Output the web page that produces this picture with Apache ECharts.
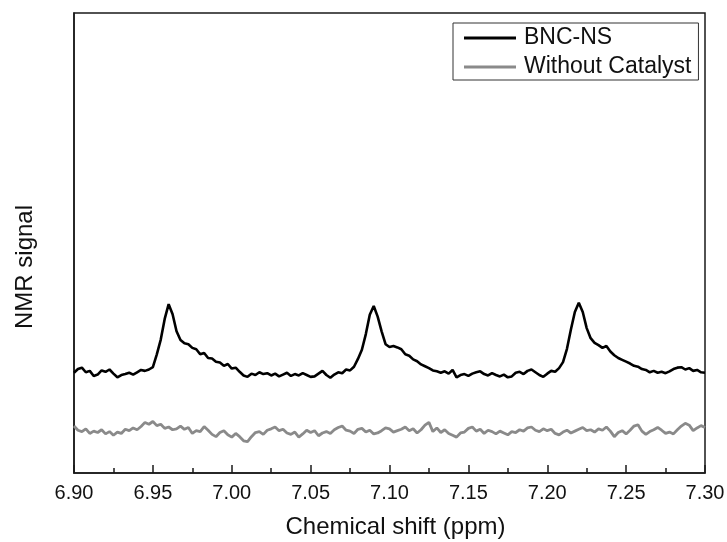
<!DOCTYPE html>
<html>
<head>
<meta charset="utf-8">
<title>NMR signal</title>
<script src="https://cdn.jsdelivr.net/npm/echarts@6/dist/echarts.min.js"></script>
<style>
  html, body { margin: 0; padding: 0; background: #fff; }
  #chart { width: 727px; height: 542px; }
</style>
</head>
<body>
<div id="chart"></div>
<script>
// Spectrum sampled every 0.0025 ppm from 6.90 to 7.30 ppm
const shiftStart = 6.90;
const shiftStep = 0.0025;

const seriesNames = ['BNC-NS', 'Without Catalyst'];

const xTicks = [6.90, 6.95, 7.00, 7.05, 7.10, 7.15, 7.20, 7.25, 7.30];

// Signal intensity (arbitrary units), BNC-NS
const bncNs = [
  21.8, 22.6, 22.9, 21.9, 22.2, 21.1, 21.4, 22.3, 22.0, 22.5,
  21.6, 20.8, 21.3, 21.5, 21.8, 21.4, 21.9, 22.4, 22.2, 22.5,
  23.0, 25.8, 29.0, 33.5, 36.7, 34.5, 30.8, 28.9, 28.2, 28.0,
  27.2, 26.9, 25.8, 26.1, 25.0, 24.9, 24.2, 24.0, 23.3, 23.7,
  22.7, 22.9, 22.0, 21.2, 20.9, 21.6, 21.3, 21.9, 21.5, 21.7,
  21.2, 21.6, 21.0, 21.4, 21.8, 21.1, 21.5, 21.2, 21.7, 21.3,
  20.9, 21.0, 21.6, 22.2, 21.3, 20.7, 21.4, 21.9, 21.7, 22.5,
  22.3, 23.1, 24.8, 26.8, 30.2, 34.4, 36.3, 34.0, 30.8, 28.0,
  27.4, 27.6, 27.3, 26.9, 25.8, 25.5, 24.7, 24.3, 23.6, 23.2,
  22.8, 22.3, 22.1, 21.8, 22.1, 21.6, 22.4, 20.8, 21.3, 21.5,
  21.1, 21.6, 21.9, 22.1, 21.5, 21.2, 21.7, 21.3, 21.0, 21.4,
  20.8, 21.0, 21.8, 22.0, 21.5, 22.2, 22.5, 21.9, 21.3, 20.9,
  21.6, 22.2, 22.0, 22.8, 24.1, 27.0, 31.2, 35.0, 37.0, 35.0,
  31.5, 29.3, 28.3, 27.8, 27.2, 27.6, 26.4, 25.6, 25.0, 24.6,
  24.2, 23.8, 23.3, 23.1, 22.6, 22.4, 21.9, 22.2, 21.8, 22.0,
  21.7, 22.1, 22.6, 22.9, 23.0, 22.5, 22.8, 22.2, 22.4, 21.9,
  21.8
];

// Signal intensity (arbitrary units), without catalyst
const noCatalyst = [
  10.2, 9.3, 9.0, 9.6, 8.6, 9.1, 8.8, 9.4, 8.5, 9.0,
  8.2, 8.9, 8.6, 9.5, 9.2, 9.8, 9.4, 10.1, 11.0, 10.6,
  11.2, 10.3, 10.6, 9.7, 10.0, 9.4, 9.6, 10.2, 9.5, 9.9,
  8.6, 9.2, 9.0, 10.1, 9.3, 8.4, 7.9, 8.8, 9.2, 8.3,
  7.8, 8.6, 7.9, 7.0, 6.8, 7.9, 8.8, 9.0, 8.4, 9.3,
  9.6, 10.0, 9.2, 9.5, 8.7, 8.4, 8.9, 7.8, 8.5, 9.3,
  8.8, 9.2, 8.1, 8.7, 9.0, 8.6, 9.4, 9.9, 10.2, 9.3,
  9.1, 8.6, 9.5, 9.7, 8.9, 9.3, 8.5, 8.7, 9.2, 9.8,
  9.6, 8.9, 9.2, 9.5, 10.0, 9.2, 9.6, 8.7, 9.4, 10.4,
  11.0, 9.0, 9.8, 8.8, 9.4, 8.6, 8.2, 7.8, 8.7, 8.9,
  9.7, 10.0, 9.1, 9.5, 8.6, 9.3, 9.0, 8.5, 9.1, 8.7,
  8.3, 9.0, 8.8, 9.4, 9.1, 9.8, 10.0, 9.3, 9.0, 9.6,
  9.2, 9.5, 8.6, 8.3, 8.9, 9.3, 8.7, 9.1, 9.5, 9.9,
  9.2, 9.4, 8.9, 9.6, 9.3, 10.0, 9.1, 7.9, 8.8, 9.2,
  8.5, 9.3, 10.2, 10.5, 9.1, 8.4, 9.0, 9.4, 9.9, 9.3,
  8.6, 8.9, 8.5, 9.4, 10.2, 10.8, 10.4, 9.2, 9.8, 10.3,
  9.9
];

function toPairs(values) {
  return values.map((v, i) => [+(shiftStart + i * shiftStep).toFixed(4), v]);
}

const chart = echarts.init(document.getElementById('chart'), null, { renderer: 'canvas' });

const frameColor = '#1a1a1a';
const textColor = '#111';
const fontFamily = 'Liberation Sans, Arial, sans-serif';
const lineColors = ['#000000', '#8a8a8a'];

chart.setOption({
  animation: false,
  backgroundColor: '#fff',
  grid: {
    left: 74, right: 22, top: 13, bottom: 69,
    outerBoundsMode: 'none',
    containLabel: false,
    show: true, borderColor: frameColor, borderWidth: 1.5
  },
  legend: {
    data: seriesNames,
    orient: 'vertical',
    left: 453, top: 23,
    padding: [2, 7, 0, 11],
    itemGap: 3,
    itemWidth: 52,
    itemHeight: 3,
    icon: 'rect',
    borderColor: '#333',
    borderWidth: 1,
    textStyle: { fontFamily, fontSize: 23, color: textColor, lineHeight: 26, padding: [0, 0, 0, 3] }
  },
  xAxis: {
    type: 'value',
    min: xTicks[0],
    max: xTicks[xTicks.length - 1],
    interval: 0.05,
    name: 'Chemical shift (ppm)',
    nameLocation: 'middle',
    nameGap: 42,
    nameTextStyle: { fontFamily, fontSize: 24, color: textColor, padding: [0, 0, 0, 12] },
    axisLine: { show: true, lineStyle: { color: frameColor, width: 1.5 } },
    axisTick: { show: true, inside: true, length: 8, lineStyle: { color: frameColor, width: 1.5 } },
    minorTick: { show: true, splitNumber: 2, length: 5, lineStyle: { color: frameColor, width: 1.5 } },
    axisLabel: {
      margin: 10, fontFamily, fontSize: 20, color: textColor,
      formatter: v => v.toFixed(2)
    },
    splitLine: { show: false }
  },
  yAxis: {
    type: 'value',
    min: 0, max: 100,
    name: 'NMR signal',
    nameLocation: 'middle',
    nameGap: 37,
    nameTextStyle: { fontFamily, fontSize: 24, color: textColor, padding: [0, 48, 0, 0] },
    axisLine: { show: true, lineStyle: { color: frameColor, width: 1.5 } },
    axisTick: { show: false },
    axisLabel: { show: false },
    splitLine: { show: false }
  },
  series: [
    {
      name: seriesNames[0],
      type: 'line',
      data: toPairs(bncNs),
      symbol: 'none',
      lineStyle: { color: lineColors[0], width: 2.6 },
      itemStyle: { color: lineColors[0] }
    },
    {
      name: seriesNames[1],
      type: 'line',
      data: toPairs(noCatalyst),
      symbol: 'none',
      lineStyle: { color: lineColors[1], width: 2.8 },
      itemStyle: { color: lineColors[1] }
    }
  ]
});
</script>
</body>
</html>
